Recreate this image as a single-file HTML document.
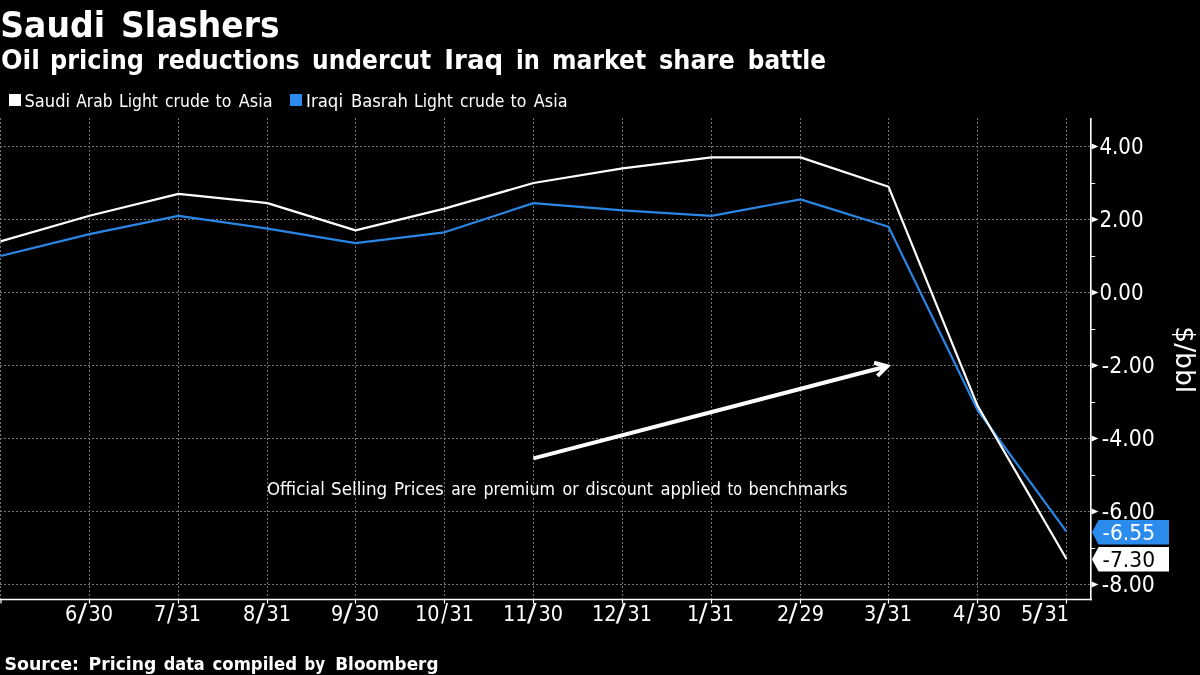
<!DOCTYPE html>
<html lang="en"><head><meta charset="utf-8"><title>Saudi Slashers</title>
<style>
html,body{margin:0;padding:0;background:#000;}
body{width:1200px;height:675px;overflow:hidden;}
svg{display:block;will-change:transform;}
text{fill:#fff;}
.r{font-family:"DejaVu Sans Condensed","DejaVu Sans","Liberation Sans",sans-serif;font-weight:400;}
.b{font-family:"DejaVu Sans","Liberation Sans",sans-serif;font-weight:700;}
</style></head><body>
<svg width="1200" height="675" viewBox="0 0 1200 675">
<text class="b" y="36.8" font-size="35"><tspan x="0.25" textLength="104.75" lengthAdjust="spacingAndGlyphs">Saudi</tspan> <tspan x="121.00" textLength="158.50" lengthAdjust="spacingAndGlyphs">Slashers</tspan></text>
<text class="b" y="68.8" font-size="26"><tspan x="1.00" textLength="39.00" lengthAdjust="spacingAndGlyphs">Oil</tspan> <tspan x="50.00" textLength="94.00" lengthAdjust="spacingAndGlyphs">pricing</tspan> <tspan x="157.00" textLength="142.75" lengthAdjust="spacingAndGlyphs">reductions</tspan> <tspan x="312.00" textLength="119.25" lengthAdjust="spacingAndGlyphs">undercut</tspan> <tspan x="444.25" textLength="59.00" lengthAdjust="spacingAndGlyphs">Iraq</tspan> <tspan x="516.00" textLength="23.75" lengthAdjust="spacingAndGlyphs">in</tspan> <tspan x="552.00" textLength="94.25" lengthAdjust="spacingAndGlyphs">market</tspan> <tspan x="659.00" textLength="75.75" lengthAdjust="spacingAndGlyphs">share</tspan> <tspan x="747.75" textLength="78.25" lengthAdjust="spacingAndGlyphs">battle</tspan></text>
<rect x="9" y="94" width="12" height="12" fill="#fff"/>
<text class="r" y="106.8" font-size="17.5"><tspan x="24.50" textLength="45.50" lengthAdjust="spacingAndGlyphs">Saudi</tspan> <tspan x="76.25" textLength="36.25" lengthAdjust="spacingAndGlyphs">Arab</tspan> <tspan x="119.00" textLength="39.00" lengthAdjust="spacingAndGlyphs">Light</tspan> <tspan x="165.00" textLength="44.50" lengthAdjust="spacingAndGlyphs">crude</tspan> <tspan x="215.50" textLength="15.75" lengthAdjust="spacingAndGlyphs">to</tspan> <tspan x="238.75" textLength="33.75" lengthAdjust="spacingAndGlyphs">Asia</tspan></text>
<rect x="290" y="94" width="12" height="12" fill="#2b8ced"/>
<text class="r" y="106.8" font-size="17.5"><tspan x="306.00" textLength="37.00" lengthAdjust="spacingAndGlyphs">Iraqi</tspan> <tspan x="351.00" textLength="57.00" lengthAdjust="spacingAndGlyphs">Basrah</tspan> <tspan x="414.00" textLength="39.00" lengthAdjust="spacingAndGlyphs">Light</tspan> <tspan x="460.00" textLength="44.50" lengthAdjust="spacingAndGlyphs">crude</tspan> <tspan x="510.50" textLength="15.75" lengthAdjust="spacingAndGlyphs">to</tspan> <tspan x="533.75" textLength="33.75" lengthAdjust="spacingAndGlyphs">Asia</tspan></text>
<g stroke="#747474" stroke-width="1" stroke-dasharray="2 2" fill="none" shape-rendering="crispEdges">
<line x1="0" y1="146.5" x2="1090" y2="146.5"/>
<line x1="0" y1="219.5" x2="1090" y2="219.5"/>
<line x1="0" y1="292.5" x2="1090" y2="292.5"/>
<line x1="0" y1="365.5" x2="1090" y2="365.5"/>
<line x1="0" y1="438.5" x2="1090" y2="438.5"/>
<line x1="0" y1="511.5" x2="1090" y2="511.5"/>
<line x1="0" y1="584.5" x2="1090" y2="584.5"/>
<line x1="0.5" y1="118" x2="0.5" y2="599"/>
<line x1="89.5" y1="118" x2="89.5" y2="599"/>
<line x1="178.5" y1="118" x2="178.5" y2="599"/>
<line x1="267.5" y1="118" x2="267.5" y2="599"/>
<line x1="355.5" y1="118" x2="355.5" y2="599"/>
<line x1="444.5" y1="118" x2="444.5" y2="599"/>
<line x1="533.5" y1="118" x2="533.5" y2="599"/>
<line x1="622.5" y1="118" x2="622.5" y2="599"/>
<line x1="711.5" y1="118" x2="711.5" y2="599"/>
<line x1="800.5" y1="118" x2="800.5" y2="599"/>
<line x1="888.5" y1="118" x2="888.5" y2="599"/>
<line x1="977.5" y1="118" x2="977.5" y2="599"/>
<line x1="1066.5" y1="118" x2="1066.5" y2="599"/>
</g>
<text class="r" y="495" font-size="17.5"><tspan x="267.00" textLength="57.75" lengthAdjust="spacingAndGlyphs">Official</tspan> <tspan x="331.00" textLength="56.25" lengthAdjust="spacingAndGlyphs">Selling</tspan> <tspan x="394.00" textLength="49.75" lengthAdjust="spacingAndGlyphs">Prices</tspan> <tspan x="451.25" textLength="25.00" lengthAdjust="spacingAndGlyphs">are</tspan> <tspan x="483.50" textLength="71.50" lengthAdjust="spacingAndGlyphs">premium</tspan> <tspan x="562.50" textLength="16.25" lengthAdjust="spacingAndGlyphs">or</tspan> <tspan x="585.50" textLength="67.50" lengthAdjust="spacingAndGlyphs">discount</tspan> <tspan x="660.50" textLength="60.50" lengthAdjust="spacingAndGlyphs">applied</tspan> <tspan x="727.50" textLength="14.50" lengthAdjust="spacingAndGlyphs">to</tspan> <tspan x="748.50" textLength="99.00" lengthAdjust="spacingAndGlyphs">benchmarks</tspan></text>
<g stroke="#fff" stroke-width="4.0" fill="none">
<line x1="533.4" y1="458.4" x2="887.1" y2="366.3"/>
<polyline points="877.5,375.8 887.1,366.3 874.1,362.7" stroke-linejoin="miter" stroke-miterlimit="10"/>
</g>
<polyline points="0.5,256.0 89.5,234.1 178.5,215.8 267.5,228.6 355.5,243.2 444.5,232.3 533.5,203.1 622.5,210.4 711.5,215.8 800.5,199.4 888.5,226.8 977.5,410.0 1066.5,531.6" fill="none" stroke="#2a86e4" stroke-width="2.2" stroke-linejoin="round"/>
<polyline points="0.5,241.4 89.5,215.8 178.5,193.9 267.5,203.1 355.5,230.4 444.5,208.6 533.5,183.0 622.5,168.4 711.5,157.4 800.5,157.4 888.5,186.7 977.5,405.6 1066.5,559.0" fill="none" stroke="#fff" stroke-width="2.2" stroke-linejoin="round"/>
<line x1="1090.8" y1="118" x2="1090.8" y2="600.3" stroke="#fff" stroke-width="1.6"/>
<line x1="0" y1="599.5" x2="1092" y2="599.5" stroke="#fff" stroke-width="1.5"/>
<path d="M1091.5 143.5 L1098.5 146.5 L1091.5 149.5 Z" fill="#fff"/>
<text class="r" x="1099.4" y="154.1" font-size="22.4" textLength="44.2" lengthAdjust="spacingAndGlyphs">4.00</text>
<path d="M1091.5 216.5 L1098.5 219.5 L1091.5 222.5 Z" fill="#fff"/>
<text class="r" x="1099.4" y="227.1" font-size="22.4" textLength="44.2" lengthAdjust="spacingAndGlyphs">2.00</text>
<path d="M1091.5 289.5 L1098.5 292.5 L1091.5 295.5 Z" fill="#fff"/>
<text class="r" x="1099.4" y="300.1" font-size="22.4" textLength="44.2" lengthAdjust="spacingAndGlyphs">0.00</text>
<path d="M1091.5 362.5 L1098.5 365.5 L1091.5 368.5 Z" fill="#fff"/>
<text class="r" x="1101.8" y="373.1" font-size="22.4" textLength="53" lengthAdjust="spacingAndGlyphs">-2.00</text>
<path d="M1091.5 435.5 L1098.5 438.5 L1091.5 441.5 Z" fill="#fff"/>
<text class="r" x="1101.8" y="446.1" font-size="22.4" textLength="53" lengthAdjust="spacingAndGlyphs">-4.00</text>
<path d="M1091.5 508.5 L1098.5 511.5 L1091.5 514.5 Z" fill="#fff"/>
<text class="r" x="1101.8" y="519.1" font-size="22.4" textLength="53" lengthAdjust="spacingAndGlyphs">-6.00</text>
<path d="M1091.5 581.5 L1098.5 584.5 L1091.5 587.5 Z" fill="#fff"/>
<text class="r" x="1101.8" y="592.1" font-size="22.4" textLength="53" lengthAdjust="spacingAndGlyphs">-8.00</text>
<line x1="1091" y1="183.5" x2="1095.2" y2="183.5" stroke="#fff" stroke-width="1"/>
<line x1="1091" y1="256.5" x2="1095.2" y2="256.5" stroke="#fff" stroke-width="1"/>
<line x1="1091" y1="329.5" x2="1095.2" y2="329.5" stroke="#fff" stroke-width="1"/>
<line x1="1091" y1="402.5" x2="1095.2" y2="402.5" stroke="#fff" stroke-width="1"/>
<line x1="1091" y1="475.5" x2="1095.2" y2="475.5" stroke="#fff" stroke-width="1"/>
<line x1="1091" y1="548.5" x2="1095.2" y2="548.5" stroke="#fff" stroke-width="1"/>
<line x1="1" y1="599" x2="1" y2="603.5" stroke="#fff" stroke-width="1.2"/>
<line x1="89.5" y1="599" x2="89.5" y2="603.6" stroke="#fff" stroke-width="1.2"/>
<line x1="178.5" y1="599" x2="178.5" y2="603.6" stroke="#fff" stroke-width="1.2"/>
<line x1="267.5" y1="599" x2="267.5" y2="603.6" stroke="#fff" stroke-width="1.2"/>
<line x1="355.5" y1="599" x2="355.5" y2="603.6" stroke="#fff" stroke-width="1.2"/>
<line x1="444.5" y1="599" x2="444.5" y2="603.6" stroke="#fff" stroke-width="1.2"/>
<line x1="533.5" y1="599" x2="533.5" y2="603.6" stroke="#fff" stroke-width="1.2"/>
<line x1="622.5" y1="599" x2="622.5" y2="603.6" stroke="#fff" stroke-width="1.2"/>
<line x1="711.5" y1="599" x2="711.5" y2="603.6" stroke="#fff" stroke-width="1.2"/>
<line x1="800.5" y1="599" x2="800.5" y2="603.6" stroke="#fff" stroke-width="1.2"/>
<line x1="888.5" y1="599" x2="888.5" y2="603.6" stroke="#fff" stroke-width="1.2"/>
<line x1="977.5" y1="599" x2="977.5" y2="603.6" stroke="#fff" stroke-width="1.2"/>
<line x1="1066.5" y1="599" x2="1066.5" y2="603.6" stroke="#fff" stroke-width="1.2"/>
<text class="r" y="621" font-size="22"><tspan x="65.00" textLength="12.25" lengthAdjust="spacingAndGlyphs">6</tspan><tspan x="77.50" font-size="24.5" textLength="9.50" lengthAdjust="spacingAndGlyphs">/</tspan><tspan x="88.50" textLength="24.50" lengthAdjust="spacingAndGlyphs">30</tspan></text>
<text class="r" y="621" font-size="22"><tspan x="154.00" textLength="12.25" lengthAdjust="spacingAndGlyphs">7</tspan><tspan x="167.00" font-size="24.5" textLength="7.50" lengthAdjust="spacingAndGlyphs">/</tspan><tspan x="176.50" textLength="24.50" lengthAdjust="spacingAndGlyphs">31</tspan></text>
<text class="r" y="621" font-size="22"><tspan x="243.00" textLength="12.25" lengthAdjust="spacingAndGlyphs">8</tspan><tspan x="255.75" font-size="24.5" textLength="9.25" lengthAdjust="spacingAndGlyphs">/</tspan><tspan x="266.50" textLength="24.50" lengthAdjust="spacingAndGlyphs">31</tspan></text>
<text class="r" y="621" font-size="22"><tspan x="331.00" textLength="12.25" lengthAdjust="spacingAndGlyphs">9</tspan><tspan x="343.00" font-size="24.5" textLength="9.50" lengthAdjust="spacingAndGlyphs">/</tspan><tspan x="354.50" textLength="24.50" lengthAdjust="spacingAndGlyphs">30</tspan></text>
<text class="r" y="621" font-size="22"><tspan x="415.00" textLength="24.50" lengthAdjust="spacingAndGlyphs">10</tspan><tspan x="441.25" font-size="24.5" textLength="6.75" lengthAdjust="spacingAndGlyphs">/</tspan><tspan x="449.50" textLength="24.50" lengthAdjust="spacingAndGlyphs">31</tspan></text>
<text class="r" y="621" font-size="22"><tspan x="503.00" textLength="24.50" lengthAdjust="spacingAndGlyphs">11</tspan><tspan x="527.00" font-size="24.5" textLength="9.50" lengthAdjust="spacingAndGlyphs">/</tspan><tspan x="538.50" textLength="24.50" lengthAdjust="spacingAndGlyphs">30</tspan></text>
<text class="r" y="621" font-size="22"><tspan x="592.00" textLength="24.50" lengthAdjust="spacingAndGlyphs">12</tspan><tspan x="615.75" font-size="24.5" textLength="10.00" lengthAdjust="spacingAndGlyphs">/</tspan><tspan x="627.50" textLength="24.50" lengthAdjust="spacingAndGlyphs">31</tspan></text>
<text class="r" y="621" font-size="22"><tspan x="687.00" textLength="12.25" lengthAdjust="spacingAndGlyphs">1</tspan><tspan x="698.75" font-size="24.5" textLength="8.75" lengthAdjust="spacingAndGlyphs">/</tspan><tspan x="709.50" textLength="24.50" lengthAdjust="spacingAndGlyphs">31</tspan></text>
<text class="r" y="621" font-size="22"><tspan x="777.00" textLength="12.25" lengthAdjust="spacingAndGlyphs">2</tspan><tspan x="788.50" font-size="24.5" textLength="9.00" lengthAdjust="spacingAndGlyphs">/</tspan><tspan x="799.50" textLength="24.50" lengthAdjust="spacingAndGlyphs">29</tspan></text>
<text class="r" y="621" font-size="22"><tspan x="864.00" textLength="12.25" lengthAdjust="spacingAndGlyphs">3</tspan><tspan x="876.50" font-size="24.5" textLength="9.50" lengthAdjust="spacingAndGlyphs">/</tspan><tspan x="887.50" textLength="24.50" lengthAdjust="spacingAndGlyphs">31</tspan></text>
<text class="r" y="621" font-size="22"><tspan x="953.00" textLength="12.25" lengthAdjust="spacingAndGlyphs">4</tspan><tspan x="967.00" font-size="24.5" textLength="7.50" lengthAdjust="spacingAndGlyphs">/</tspan><tspan x="976.50" textLength="24.50" lengthAdjust="spacingAndGlyphs">30</tspan></text>
<text class="r" y="621" font-size="22"><tspan x="1021.00" textLength="12.25" lengthAdjust="spacingAndGlyphs">5</tspan><tspan x="1033.00" font-size="24.5" textLength="9.50" lengthAdjust="spacingAndGlyphs">/</tspan><tspan x="1044.50" textLength="24.50" lengthAdjust="spacingAndGlyphs">31</tspan></text>
<path d="M1092 532.3 L1098.5 520.1 L1169 520.1 L1169 544.5 L1098.5 544.5 Z" fill="#2b8ced"/>
<text class="r" x="1102.6" y="540.4" font-size="20.5" textLength="52.5" lengthAdjust="spacingAndGlyphs" style="fill:#fff">-6.55</text>
<path d="M1092 559.3 L1098.5 547.1 L1169 547.1 L1169 571.5 L1098.5 571.5 Z" fill="#fff"/>
<text class="r" x="1102.6" y="567.4" font-size="20.5" textLength="52.5" lengthAdjust="spacingAndGlyphs" style="fill:#000">-7.30</text>
<text class="r" font-size="26" transform="translate(1175.5 326.3) rotate(90)" textLength="66.8" lengthAdjust="spacingAndGlyphs">$/bbl</text>
<text class="b" y="669.7" font-size="17"><tspan x="4.50" textLength="74.50" lengthAdjust="spacingAndGlyphs">Source:</tspan> <tspan x="88.50" textLength="68.00" lengthAdjust="spacingAndGlyphs">Pricing</tspan> <tspan x="163.75" textLength="41.00" lengthAdjust="spacingAndGlyphs">data</tspan> <tspan x="212.50" textLength="84.50" lengthAdjust="spacingAndGlyphs">compiled</tspan> <tspan x="304.50" textLength="20.50" lengthAdjust="spacingAndGlyphs">by</tspan> <tspan x="335.25" textLength="103.25" lengthAdjust="spacingAndGlyphs">Bloomberg</tspan></text>
</svg>
</body></html>
